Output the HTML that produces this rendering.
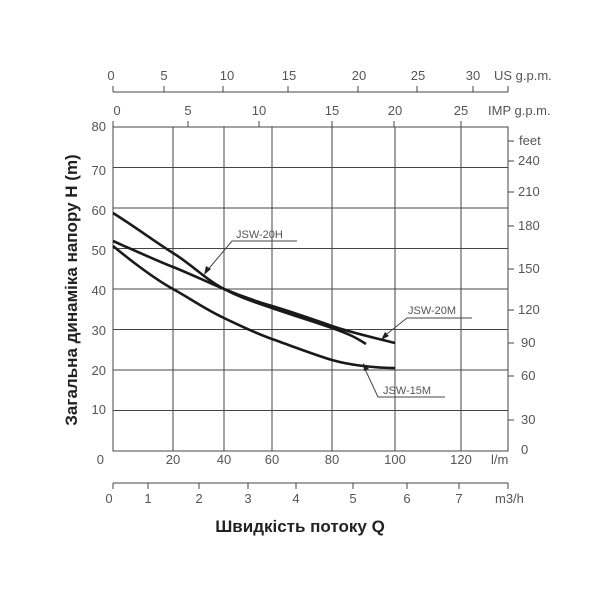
<!DOCTYPE html>
<html><head><meta charset="utf-8"><style>
body{margin:0;background:#fff;}
text{font-family:"Liberation Sans",sans-serif;fill:#555;}
</style></head><body>
<svg width="600" height="600" viewBox="0 0 600 600" xmlns="http://www.w3.org/2000/svg">
<rect width="600" height="600" fill="#fff"/>
<g stroke="#444" stroke-width="1" fill="none">
<line x1="113" y1="92" x2="508" y2="92"/>
<line x1="113" y1="86" x2="113" y2="92"/><line x1="164" y1="86" x2="164" y2="92"/><line x1="223" y1="86" x2="223" y2="92"/><line x1="288" y1="86" x2="288" y2="92"/><line x1="358" y1="86" x2="358" y2="92"/><line x1="417" y1="86" x2="417" y2="92"/><line x1="473" y1="86" x2="473" y2="92"/><line x1="508" y1="86" x2="508" y2="92"/>
<line x1="113" y1="121" x2="113" y2="127"/><line x1="188" y1="121" x2="188" y2="127"/><line x1="259" y1="121" x2="259" y2="127"/><line x1="332" y1="121" x2="332" y2="127"/><line x1="394" y1="121" x2="394" y2="127"/><line x1="461" y1="121" x2="461" y2="127"/>
<rect x="113" y="127" width="395" height="324"/>
<line x1="113" y1="167.5" x2="508" y2="167.5"/><line x1="113" y1="208" x2="508" y2="208"/><line x1="113" y1="248.5" x2="508" y2="248.5"/><line x1="113" y1="289" x2="508" y2="289"/><line x1="113" y1="329.5" x2="508" y2="329.5"/><line x1="113" y1="370" x2="508" y2="370"/><line x1="113" y1="410.5" x2="508" y2="410.5"/>
<line x1="173" y1="127" x2="173" y2="451"/><line x1="224" y1="127" x2="224" y2="451"/><line x1="272" y1="127" x2="272" y2="451"/><line x1="332" y1="127" x2="332" y2="451"/><line x1="395" y1="127" x2="395" y2="451"/><line x1="461" y1="127" x2="461" y2="451"/>
<line x1="508" y1="141" x2="514" y2="141"/><line x1="508" y1="161" x2="514" y2="161"/><line x1="508" y1="192" x2="514" y2="192"/><line x1="508" y1="226" x2="514" y2="226"/><line x1="508" y1="269" x2="514" y2="269"/><line x1="508" y1="310" x2="514" y2="310"/><line x1="508" y1="343" x2="514" y2="343"/><line x1="508" y1="376" x2="514" y2="376"/><line x1="508" y1="420" x2="514" y2="420"/>
<line x1="113" y1="483" x2="508" y2="483"/>
<line x1="113" y1="483" x2="113" y2="489"/><line x1="148" y1="483" x2="148" y2="489"/><line x1="199" y1="483" x2="199" y2="489"/><line x1="248" y1="483" x2="248" y2="489"/><line x1="296" y1="483" x2="296" y2="489"/><line x1="353" y1="483" x2="353" y2="489"/><line x1="407" y1="483" x2="407" y2="489"/><line x1="459" y1="483" x2="459" y2="489"/><line x1="508" y1="483" x2="508" y2="489"/>
</g>
<g stroke="#1a1a1a" stroke-width="2.6" fill="none">
<path d="M113,213 C140,230 155,242 173,253 S205,279 224,289 S255,302 272,308 S315,322 332,328 S355,337 366,344"/>
<path d="M113,241 C140,253 160,262 173,267 S205,281 224,289 S255,301 272,306 S315,320 332,326 S375,338 395,343"/>
<path d="M113,246 C135,264 155,279 173,289 S205,309 224,318 S255,333 272,339 S315,355 332,360 S375,368 395,368"/>
</g>
<g stroke="#444" stroke-width="1" fill="none">
<polyline points="206,272 232,241 297,241"/>
<polyline points="383,337 407,318 472,318"/>
<polyline points="364,367 378,397 445,397"/>
</g>
<g fill="#222">
<polygon points="204,275 206,266 211,269"/>
<polygon points="381,340 385,332 389,336"/>
<polygon points="363,363 369,369 364,371"/>
</g>
<g font-size="12">
<text x="236" y="238" font-size="11">JSW-20H</text>
<text x="408" y="314" font-size="11">JSW-20M</text>
<text x="383" y="394" font-size="11">JSW-15M</text>
</g>
<g font-size="13" text-anchor="middle">
<text x="111" y="80">0</text><text x="164" y="80">5</text><text x="227" y="80">10</text><text x="289" y="80">15</text><text x="359" y="80">20</text><text x="418" y="80">25</text><text x="473" y="80">30</text>
<text x="117" y="115">0</text><text x="188" y="115">5</text><text x="259" y="115">10</text><text x="332" y="115">15</text><text x="395" y="115">20</text><text x="461" y="115">25</text>
<text x="173" y="464">20</text><text x="224" y="464">40</text><text x="272" y="464">60</text><text x="332" y="464">80</text><text x="395" y="464">100</text><text x="461" y="464">120</text>
<text x="109" y="503">0</text><text x="148" y="503">1</text><text x="199" y="503">2</text><text x="248" y="503">3</text><text x="296" y="503">4</text><text x="353" y="503">5</text><text x="407" y="503">6</text><text x="459" y="503">7</text>
</g>
<text x="494" y="80" font-size="13">US g.p.m.</text>
<text x="488" y="115" font-size="13">IMP g.p.m.</text>
<text x="491" y="464" font-size="13">l/m</text>
<text x="495" y="503" font-size="13">m3/h</text>
<g font-size="13" text-anchor="end">
<text x="106" y="131">80</text><text x="106" y="175">70</text><text x="106" y="215">60</text><text x="106" y="255">50</text><text x="106" y="295">40</text><text x="106" y="335">30</text><text x="106" y="375">20</text><text x="106" y="414">10</text><text x="104" y="464">0</text>
</g>
<g font-size="13">
<text x="519" y="145">feet</text><text x="518" y="165">240</text><text x="518" y="196">210</text><text x="518" y="230">180</text><text x="518" y="273">150</text><text x="518" y="314">120</text><text x="521" y="347">90</text><text x="521" y="380">60</text><text x="521" y="424">30</text><text x="521" y="454">0</text>
</g>
<text x="300" y="532" font-size="17" font-weight="bold" text-anchor="middle" style="fill:#222">Швидкість потоку Q</text>
<text transform="translate(77,290) rotate(-90)" font-size="17" font-weight="bold" text-anchor="middle" style="fill:#222">Загальна динаміка напору H (m)</text>
</svg>
</body></html>
